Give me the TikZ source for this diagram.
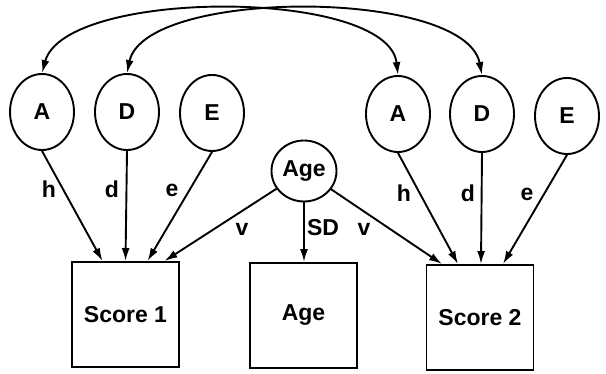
\documentclass[tikz,border=0pt]{standalone}
\usepackage{fontspec}
\setmainfont{Liberation Sans}
\usetikzlibrary{arrows.meta,calc,shapes.geometric}
\begin{document}
\begin{tikzpicture}[x=1pt,y=-1pt,
  line width=1.9pt,
  txt/.style={font=\fontsize{23}{27}\selectfont\bfseries},
  latent/.style={draw,ellipse,minimum width=64pt,minimum height=76pt,inner sep=0pt,txt},
  agelat/.style={draw,ellipse,minimum width=65pt,minimum height=61pt,inner sep=0pt,txt},
  obs/.style={draw,rectangle,minimum width=107pt,minimum height=105pt,inner sep=0pt,txt},
  pathto/.style={-{Latex[length=13pt,width=8pt]}},
  twoway/.style={{Latex[length=13pt,width=8pt]}-{Latex[length=13pt,width=8pt]}},
  lab/.style={txt,inner sep=0pt}]
\useasboundingbox (0,0) rectangle (606,374);

% latent factors, twin 1
\node[latent] (A1) at (42,112) {A};
\node[latent] (D1) at (127,112) {D};
\node[latent] (E1) at (212,113) {E};
% latent factors, twin 2
\node[latent] (A2) at (398,114) {A};
\node[latent] (D2) at (482,114) {D};
\node[latent] (E2) at (567,116) {E};
% age
\node[agelat] (ag) at (304,171) {Age};

% observed measures
\node[obs] (S1) at (125.5,314.5) {Score 1};
\node[obs] (SA) at (303.5,315.5) {Age};
\node[obs] (S2) at (480,317.5) {Score 2};

% correlations between twins
\draw[twoway] (A1.north) .. controls (65,-12) and (388,-12) .. (A2.north);
\draw[twoway] (D1.north) .. controls (145,-12) and (465,-12) .. (D2.north);

% paths to Score 1
\draw[pathto] (A1.south) -- ($(S1.north)+(-23,0)$);
\draw[pathto] (D1.south) -- ($(S1.north)+(0,0)$);
\draw[pathto] (E1.south) -- ($(S1.north)+(22,0)$);
\draw[pathto] (ag) -- ($(S1.north)+(39,0)$);
% paths to Score 2
\draw[pathto] (ag) -- ($(S2.north)+(-38,0)$);
\draw[pathto] (A2.south) -- ($(S2.north)+(-22,0)$);
\draw[pathto] (D2.south) -- ($(S2.north)+(1,0)$);
\draw[pathto] (E2.south) -- ($(S2.north)+(23,0)$);
% age measured
\draw[pathto] (ag.south) -- (ag.south |- SA.north);

% path labels
\node[lab] (lh1) at (49,189) {h};
\node[lab] (ld1) at (112,189) {d};
\node[lab] (le1) at (172,190) {e};
\node[lab] (lv1) at (242,229) {v};
\node[lab] (lsd) at (323,228) {SD};
\node[lab] (lv2) at (364,229) {v};
\node[lab] (lh2) at (404,193) {h};
\node[lab] (ld2) at (468,193) {d};
\node[lab] (le2) at (527,194) {e};
\end{tikzpicture}
\end{document}
